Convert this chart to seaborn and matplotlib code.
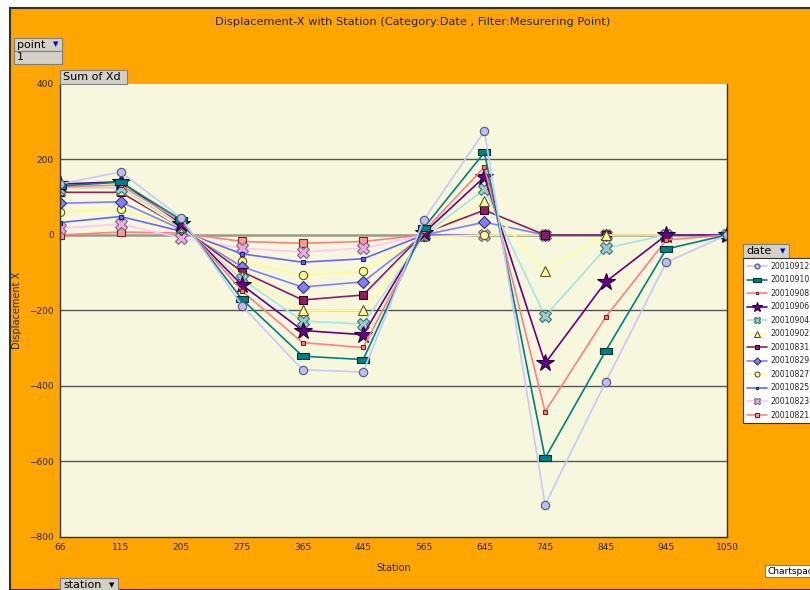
import matplotlib
matplotlib.use('Agg')
import matplotlib.pyplot as plt
import seaborn as sns
import pandas as pd
from matplotlib.patches import Rectangle
from matplotlib.path import Path

# Chart data
stations = ['66', '115', '205', '275', '365', '445', '565', '645', '745', '845', '945', '1050']
dates = ['20010912', '20010910', '20010908', '20010906', '20010904', '20010902',
         '20010831', '20010829', '20010827', '20010825', '20010823', '20010821']
d20010912 = [135, 167, 45, -187, -357, -363, 40, 275, -715, -389, -72, 0]
d20010910 = [130, 140, 40, -170, -321, -330, 19, 219, -591, -307, -37, 0]
d20010908 = [128, 132, 35, -148, -285, -298, 10, 180, -468, -217, -13, 0]
d20010906 = [135, 141, 30, -132, -253, -264, 5, 154, -340, -124, 0, 0]
d20010904 = [125, 125, 25, -117, -228, -236, 0, 121, -215, -35, 0, 0]
d20010902 = [120, 120, 20, -108, -200, -199, 0, 90, -95, 0, 0, 0]
d20010831 = [113, 113, 20, -97, -172, -159, 5, 66, 0, 0, 0, 0]
d20010829 = [84, 88, 15, -84, -138, -124, 0, 34, 0, 0, 0, 0]
d20010827 = [61, 69, 15, -69, -107, -95, -5, 0, 0, 0, 0, 0]
d20010825 = [33, 49, 10, -50, -72, -63, 0, 0, 0, 0, 0, 0]
d20010823 = [18, 29, -8, -35, -45, -35, 0, 0, 0, 0, 0, 0]
d20010821 = [0, 8, 5, -17, -22, -17, 0, 0, 0, 0, 0, 0]
series = [d20010912, d20010910, d20010908, d20010906, d20010904, d20010902,
          d20010831, d20010829, d20010827, d20010825, d20010823, d20010821]

df = pd.DataFrame({'station': stations * len(dates),
                   'date': [d for d in dates for _ in stations],
                   'xd': [v for s in series for v in s]})

rect_marker = Path([(-1, -0.45), (1, -0.45), (1, 0.45), (-1, 0.45), (-1, -0.45)])

# line colour, marker, size, face, edge
styles = {
    '20010912': ('#C8C8F6', 'o', 6, '#BDBDF0', '#555577'),
    '20010910': ('#008080', rect_marker, 9, '#008080', '#003333'),
    '20010908': ('#FF8080', 's', 3.5, '#FF8080', '#802020'),
    '20010906': ('#660088', '*', 13, '#660088', '#220033'),
    '20010904': ('#A8E4E4', 'X', 8, '#99CCCC', '#407070'),
    '20010902': ('#FFFF99', '^', 7.5, '#FFFF99', '#555533'),
    '20010831': ('#8B2060', 's', 6, '#8B2060', '#330022'),
    '20010829': ('#8080FF', 'D', 6, '#8080FF', '#333366'),
    '20010827': ('#FFFF88', 'o', 6, '#FFFF99', '#555533'),
    '20010825': ('#6666FF', 's', 3.5, '#6666FF', '#222266'),
    '20010823': ('#FFC4FF', 'X', 8, '#F0A8E0', '#707070'),
    '20010821': ('#FF8080', 's', 6, '#FF9999', '#802020'),
}

sns.set_style('white')
fig = plt.figure(figsize=(8.1, 5.9), dpi=100)
fig.patch.set_facecolor('white')
fig.patches.append(Rectangle((10 / 810, 0), 1, 1 - 8 / 590, transform=fig.transFigure,
                             facecolor='#FFA500', edgecolor='#303030', linewidth=1.5, zorder=-5))

ax = fig.add_axes([60 / 810, 1 - 537 / 590, 667 / 810, 453 / 590])
ax.set_zorder(1)
ax.set_facecolor('#F7F7DE')

# first series fixes the category order on the x axis
ax.plot(stations, [0] * len(stations), alpha=0)
for date in reversed(dates):
    lc, m, ms, fc, ec = styles[date]
    sub = df[df['date'] == date]
    sns.lineplot(data=sub, x='station', y='xd', ax=ax, sort=False, color=lc,
                 marker=m, markersize=ms, markerfacecolor=fc, markeredgecolor=ec,
                 markeredgewidth=0.8, linewidth=1.2, label=date, legend=False)

ax.set_xlim(0, len(stations) - 1)
ax.set_ylim(-800, 400)
ax.set_yticks(range(-800, 401, 200))
for yv in [-600, -400, -200, 200]:
    ax.axhline(yv, color='#555555', linewidth=1, zorder=0.5)
ax.axhline(0, color='#999988', linewidth=1.8, zorder=0.5)
for side in ['left', 'bottom', 'right']:
    ax.spines[side].set_color('#333333')
    ax.spines[side].set_linewidth(1)
ax.spines['top'].set_visible(False)
ax.tick_params(axis='both', labelsize=6.5, length=3, width=0.8, color='#333333', pad=1.5)
ax.set_xlabel('Station', fontsize=7)
ax.set_ylabel('Displacement X', fontsize=7)
ax.xaxis.set_label_coords(0.5, (537 - 563) / 453)
ax.yaxis.set_label_coords((22 - 60) / 667, 0.5)

fig.text(413 / 810, 1 - 22 / 590, 'Displacement-X with Station (Category:Date , Filter:Mesurering Point)',
         ha='center', va='center', fontsize=8.2, color='#222222')


def box(x0, y0, w, h, label, arrow=None, fc='#D4D0C8', fs=8, weight='normal'):
    fig.patches.append(Rectangle((x0 / 810, 1 - (y0 + h) / 590), w / 810, h / 590,
                                 transform=fig.transFigure, facecolor=fc,
                                 edgecolor='#808080', linewidth=0.8, zorder=3))
    fig.text((x0 + 3) / 810, 1 - (y0 + h / 2) / 590, label, ha='left', va='center',
             fontsize=fs, fontweight=weight, zorder=4, color='black')
    if arrow:
        fig.text((x0 + w - 4) / 810, 1 - (y0 + h / 2) / 590, '▼', ha='right', va='center',
                 fontsize=5, color=arrow, zorder=4)


box(14, 38, 48, 13, 'point', arrow='#0000CC')
box(14, 51, 48, 13, '1')
box(60, 70, 67, 14, 'Sum of Xd')
box(60, 578, 58, 14, 'station', arrow='black')
box(743, 244, 46, 14, 'date', arrow='#0000CC')
box(765, 565, 50, 12, 'Chartspace', fc='white', fs=6.5)

handles = {ln.get_label(): ln for ln in ax.get_lines()}
leg = fig.legend([handles[d] for d in dates], dates, loc='upper left',
                 bbox_to_anchor=(743 / 810, 1 - 258 / 590), fontsize=5.6, frameon=True,
                 fancybox=False, edgecolor='#333333', facecolor='white', framealpha=1,
                 handlelength=2.6, labelspacing=0.58, borderpad=0.5, handletextpad=0.4,
                 borderaxespad=0, markerscale=0.6)
leg.get_frame().set_linewidth(0.8)

fig.savefig('out.png', dpi=100, facecolor=fig.get_facecolor())
